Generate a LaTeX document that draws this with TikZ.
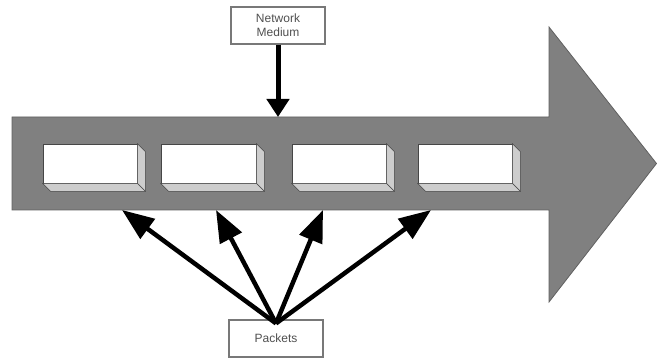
\documentclass[tikz,border=0pt]{standalone}
\usepackage{fontspec}
\setmainfont{Liberation Sans}
\usetikzlibrary{arrows.meta}
\definecolor{bandgray}{RGB}{128,128,128}
\definecolor{bandedge}{RGB}{96,96,96}
\definecolor{faceedge}{RGB}{70,70,70}
\definecolor{sidegray}{RGB}{205,205,205}
\definecolor{boxedge}{RGB}{120,120,120}
\definecolor{labeltext}{RGB}{80,80,80}
\begin{document}
\begin{tikzpicture}[x=1pt,y=-1pt,
  labelbox/.style={draw=boxedge, line width=1.2pt, fill=white,
    minimum width=94pt, minimum height=37pt, inner sep=0pt,
    font=\fontsize{12}{14}\selectfont, text=labeltext, align=center},
  packet/.style={draw=faceedge, line width=0.7pt, fill=white,
    minimum width=94pt, minimum height=39pt, inner sep=0pt},
  sideface/.style={draw=faceedge, line width=0.5pt, fill=sidegray},
  feed/.style={line width=4.5pt, -{Triangle[length=32pt,width=24pt]}},
  drop/.style={line width=5pt, -{Triangle[length=18pt,width=22pt]}}]
\useasboundingbox (0,0) rectangle (657,358);

% the medium: a broad arrow pointing right
\draw[fill=bandgray, draw=bandedge, line width=0.8pt]
  (12,117) -- (549,117) -- (549,27) -- (656.5,163.5) -- (549,302)
  -- (549,210) -- (12,210) -- cycle;

% packets travelling along the medium
\foreach \name/\cx/\w in {p1/90/94, p2/208.5/95, p3/339/94, p4/465/94} {
  \node[packet, minimum width=\w pt] (\name) at (\cx,163.5) {};
  \draw[sideface] (\name.north east) -- ([shift={(8,8)}]\name.north east)
    -- ([shift={(8,8)}]\name.south east) -- (\name.south east) -- cycle;
  \draw[sideface] (\name.south west) -- ([shift={(8,8)}]\name.south west)
    -- ([shift={(8,8)}]\name.south east) -- (\name.south east) -- cycle;
}

% labels
\node[labelbox] (medium) at (278,25.5) {Network\\Medium};
\node[labelbox] (packets) at (276,338.5) {Packets};

% points on the medium where the arrows land
\coordinate (entry) at (278,117);
\coordinate (t1) at (122,210);
\coordinate (t2) at (216,210);
\coordinate (t3) at (323,210);
\coordinate (t4) at (431,210);

\draw[drop] (medium.south) -- (entry);
\foreach \t in {t1,t2,t3,t4}
  \draw[feed] ([yshift=-4pt]packets.north) -- (\t);
\end{tikzpicture}
\end{document}
